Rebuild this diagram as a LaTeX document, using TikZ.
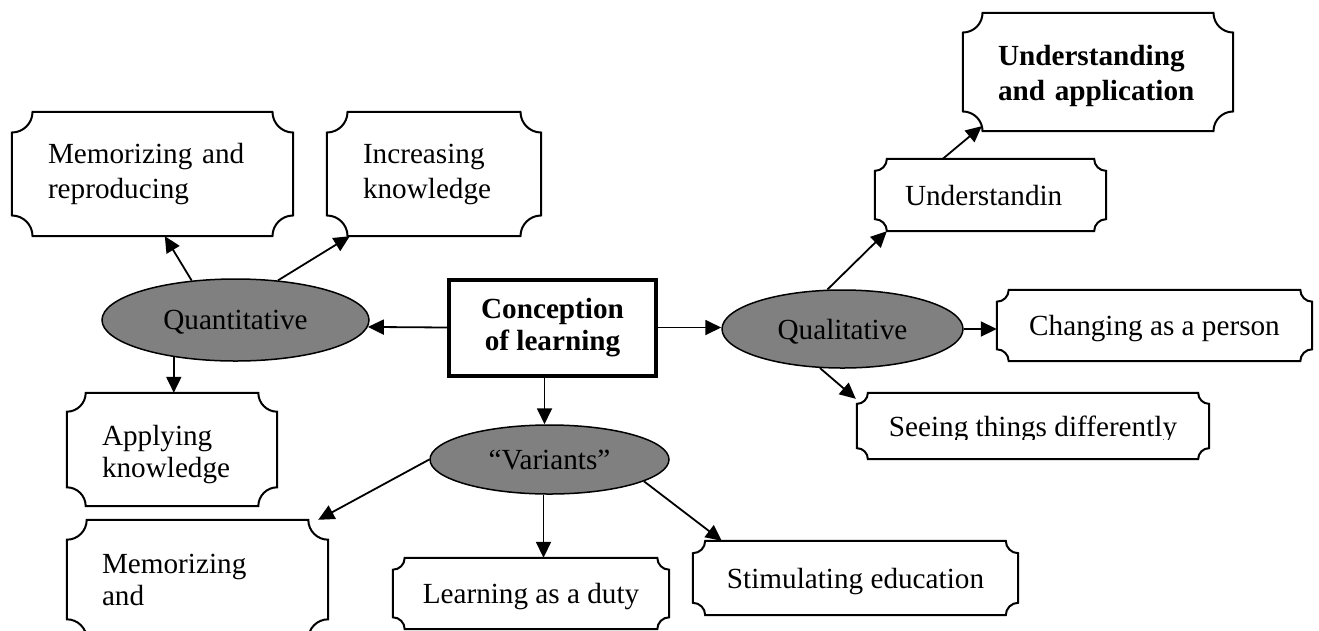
\documentclass[tikz,border=0pt]{standalone}
\usepackage{fontspec}
\setmainfont{Liberation Serif}
\usetikzlibrary{arrows.meta,calc,shapes.geometric}

\definecolor{ovalgray}{RGB}{128,128,128}

% text sizes: one for loosely spaced lines, one for tighter ones
\newcommand\looseset{\fontsize{29.2pt}{35pt}\selectfont}
\newcommand\tightset{\fontsize{29.2pt}{32pt}\selectfont}

% outline with concave (scooped) corners around a named node
\newcommand\plaqueframe[1]{%
  \draw[frameline] let \p1=(#1.south west), \p2=(#1.north east),
      \n1={min(\x2-\x1,\y2-\y1)/6} in
    (\x1+\n1,\y1) -- (\x2-\n1,\y1)
    arc[start angle=180,end angle=90,radius=\n1]
    -- (\x2,\y2-\n1)
    arc[start angle=270,end angle=180,radius=\n1]
    -- (\x1+\n1,\y2)
    arc[start angle=0,end angle=-90,radius=\n1]
    -- (\x1,\y1+\n1)
    arc[start angle=90,end angle=0,radius=\n1]
    -- cycle;}

\tikzset{
  box/.style={rectangle, inner sep=0pt, font=\looseset},
  oneline/.style={box, text depth=0pt},
  leftbox/.style={box, align=left, text width=#1},
  oval/.style={ellipse, draw, line width=1.5pt, fill=ovalgray, inner sep=0pt,
    font=\looseset, text depth=0pt},
  hub/.style={rectangle, draw, line width=4pt, inner sep=0pt, align=center, font=\tightset\bfseries},
  frameline/.style={line width=2pt},
  conn/.style={line width=1.8pt, -{Triangle[length=16pt,width=15pt]}}
}

\begin{document}
\begin{tikzpicture}[x=1pt, y=-1pt]
\useasboundingbox (0,0) rectangle (1319,630);
\clip (0,0) rectangle (1319,630);

% central concept
\node[hub, minimum width=207pt, minimum height=96pt] (c) at (552.5,327.5) {Conception\\of learning};

% the three branches
\node[oval, minimum width=267pt, minimum height=82pt] (qn) at (235.5,320) {Quantitative};
\node[oval, minimum width=241pt, minimum height=78pt] (ql) at (842.5,329) {Qualitative};
\node[oval, minimum width=239pt, minimum height=69pt] (va) at (549.5,459.5) {“Variants”};

% quantitative leaves
\node[leftbox=209pt, minimum width=281pt, minimum height=124pt] (b1) at (152.5,174) {Memorizing and\\reproducing};
\node[leftbox=142pt, minimum width=214pt, minimum height=124pt] (b2) at (434,174) {Increasing\\knowledge};
\node[leftbox=140pt, font=\tightset, minimum width=210pt, minimum height=113pt] (b3) at (172,449.5) {\rule{0pt}{30pt}Applying\\knowledge};

% variant leaves
\node[leftbox=191pt, font=\tightset, minimum width=261pt, minimum height=119pt] (b4) at (197.5,579.5) {Memorizing\\and};
\node[oneline, minimum width=276pt, minimum height=71pt] (b5) at (531,593.5) {Learning as a duty};
\node[oneline, minimum width=325pt, minimum height=74pt] (b6) at (855.5,578) {Stimulating education};

% qualitative leaves
\begin{scope}
  \clip (850,380) rectangle (1220,439);
  \node[oneline, minimum width=352pt, minimum height=66pt] (b7) at (1033,426) {Seeing things differently};
\end{scope}
\node[oneline, minimum width=315pt, minimum height=71pt] (b8) at (1154.5,325.5) {Changing as a person};
\node[leftbox=171pt, text depth=0pt, minimum width=231pt, minimum height=72pt] (b9) at (990.5,195) {Understandin};
\node[leftbox=200pt, font=\looseset\bfseries, minimum width=270pt, minimum height=118pt] (b10) at (1098,72) {\rule{0pt}{27.5pt}Understanding\\and application};

% scooped frames
\plaqueframe{b1}
\plaqueframe{b2}
\plaqueframe{b3}
\plaqueframe{b4}
\plaqueframe{b5}
\plaqueframe{b6}
\plaqueframe{b7}
\plaqueframe{b8}
\plaqueframe{b9}
\plaqueframe{b10}

% connectors
\draw[conn] (c.west) -- (qn.-3.3);
\draw[conn] (c.east) -- (c.east -| ql.west);
\draw[conn] ([xshift=-8pt]c.south) -- ([xshift=-8pt]c.south |- va.north);

\draw[conn] (qn.138) -- ($(b1.south west)+(153,0)$);
\draw[conn] (qn.43) -- ($(b2.south west)+(23,0)$);
\draw[conn] (qn.-149.4) -- (qn.-149.4 |- b3.north);

\draw[conn] (va.west) -- ($(b4.north east)+(-10,0)$);
\draw[conn] ([xshift=-6pt]va.south) -- ([xshift=-6pt]va.south |- b5.north);
\draw[conn] (va.-13) -- ($(b6.north west)+(29,0)$);

\draw[conn] (ql.-120.4) -- ($(b7.north west)+(-1,6)$);
\draw[conn] (ql.east) -- (ql.east -| b8.west);
\draw[conn] (ql.111.8) -- ($(b9.south west)+(12,0)$);
\draw[conn] ($(b9.north west)+(68,0)$) -- ($(b10.south west)+(19,-5)$);
\end{tikzpicture}
\end{document}
